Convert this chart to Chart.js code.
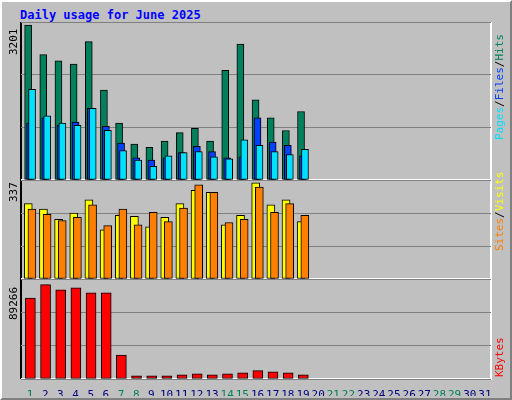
<!DOCTYPE html>
<html><head><meta charset="utf-8">
<script src="https://cdn.jsdelivr.net/npm/chart.js@4"></script>
<style>
body{margin:0;background:#fff}
#wrap{position:relative;width:508px;height:396px;background:#c0c0c0;border:2px solid;border-color:#fff #808080 #808080 #fff;font-family:"DejaVu Sans Mono",monospace}
canvas{position:absolute;left:0}
.t{position:absolute;left:18px;top:6px;color:#0000ff;font-weight:bold;font-size:12px}
.v{position:absolute;transform:rotate(-90deg);transform-origin:left top;font-size:11px;white-space:nowrap}
</style></head><body>
<div id="wrap">
<div class="t">Daily usage for June 2025</div>
<canvas id="c1"></canvas><canvas id="c2"></canvas><canvas id="c3"></canvas>
<div class="v" style="left:5px;top:53px;color:#000">3201</div>
<div class="v" style="left:5px;top:200px;color:#000">337</div>
<div class="v" style="left:5px;top:318px;color:#000">89266</div>
<div class="v" style="left:491px;top:138px"><span style="color:#00e0ff">Pages</span>/<span style="color:#0040ff">Files</span>/<span style="color:#00805c">Hits</span></div>
<div class="v" style="left:491px;top:249px"><span style="color:#ff8000">Sites</span>/<span style="color:#ffff00">Visits</span></div>
<div class="v" style="left:491px;top:375px"><span style="color:#ff0000">KBytes</span></div>
</div>
<script>
const days = Array.from({length: 31}, (_, i) => i + 1);
const weekend = [1, 7, 8, 14, 15, 21, 22, 28, 29];
const hits = [3201,2591,2461,2395,2860,1858,1176,740,675,806,980,1067,806,2265,2809,1655,1285,1023,1415];
const files = [1176,1285,1132,1198,1481,1111,762,457,414,457,566,697,588,457,479,1285,784,719,501];
const pages = [1873,1328,1176,1132,1481,1024,610,414,283,501,566,588,479,436,828,719,588,523,632];
const visits = [264,245,209,231,278,172,223,220,183,216,264,311,304,190,223,337,260,278,201];
const sites = [245,227,205,216,260,187,245,190,234,201,249,330,304,198,209,322,234,264,223];
const kbytes = [76500,89266,84360,86330,81420,81420,22560,2940,2940,2940,3920,4900,3920,4900,5890,7850,6870,5890,3920];

const bevel = {
  id: 'bevel',
  beforeDraw(c) {
    const a = c.chartArea, x = c.ctx;
    x.save();
    x.lineWidth = 2;
    x.strokeStyle = '#000';
    x.beginPath(); x.moveTo(a.left, a.bottom); x.lineTo(a.left, a.top); x.lineTo(a.right, a.top); x.stroke();
    x.strokeStyle = '#fff';
    x.beginPath(); x.moveTo(a.right, a.top); x.lineTo(a.right, a.bottom); x.lineTo(a.left, a.bottom); x.stroke();
    x.restore();
  }
};

function ds(label, data, color, shift, order, width) {
  return { label, data: data.map((v, i) => ({ x: days[i] + shift, y: v })),
    backgroundColor: color, borderColor: '#000', borderWidth: 1, borderSkipped: false,
    grouped: false, barThickness: width, order };
}

function panel(id, top, height, max, sets, showX) {
  const cv = document.getElementById(id);
  cv.style.top = top + 'px';
  cv.width = 508; cv.height = height;
  cv.style.width = '508px'; cv.style.height = height + 'px';
  new Chart(cv, {
    type: 'bar',
    data: { datasets: sets },
    options: {
      responsive: false, animation: false,
      layout: { padding: { left: 19, right: 19, top: 0, bottom: 0 } },
      plugins: { legend: { display: false }, tooltip: { enabled: false } },
      scales: {
        x: { type: 'linear', min: 0.5, max: 31.5, offset: false, grid: { display: false }, border: { display: false },
          afterFit: s => { s.height = showX ? 17 : 0; },
          afterBuildTicks: s => { s.ticks = days.map(d => ({ value: d + 0.1 })); },
          ticks: { display: showX, padding: 2, autoSkip: false, maxRotation: 0,
            callback: v => String(Math.round(v - 0.1)),
            font: { family: 'DejaVu Sans Mono', size: 11 },
            color: ctx => weekend.includes(Math.round(ctx.tick.value - 0.1)) ? '#00805c' : '#000080' } },
        y: { display: true, min: 0, max: max, border: { display: false },
          grid: { color: '#808080', lineWidth: 1, drawTicks: false },
          afterFit: s => { s.width = 0; },
          ticks: { display: false, stepSize: max / 3 } }
      }
    },
    plugins: [bevel]
  });
}

panel('c1', 20, 158, 3201 * 1.02, [ds('Hits', hits, '#00805c', -0.03, 3, 7), ds('Files', files, '#0040ff', 0.1, 2, 7), ds('Pages', pages, '#00e0ff', 0.23, 1, 7)], false);
panel('c2', 178, 99, 337 * 1.03, [ds('Visits', visits, '#ffff00', -0.02, 2, 8), ds('Sites', sites, '#ff8000', 0.22, 1, 8)], false);
panel('c3', 277, 117, 89266 * 1.06, [ds('KBytes', kbytes, '#ff0000', 0.12, 1, 10)], true);
</script>
</body></html>
